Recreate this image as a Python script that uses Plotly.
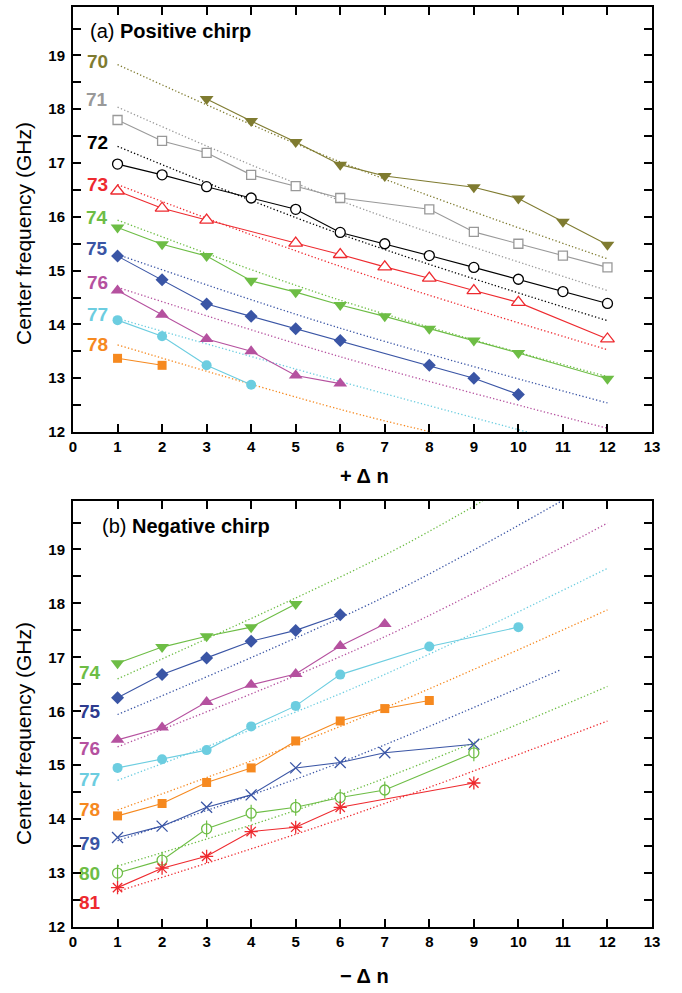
import plotly.graph_objects as go

# ---------------- DATA ----------------
# (a) Positive chirp : measured center frequencies (GHz) vs +Δn
pos_labels = ["70", "71", "72", "73", "74", "75", "76", "77", "78"]
pos_x = {
    "70": [3, 4, 5, 6, 7, 9, 10, 11, 12],
    "71": [1, 2, 3, 4, 5, 6, 8, 9, 10, 11, 12],
    "72": [1, 2, 3, 4, 5, 6, 7, 8, 9, 10, 11, 12],
    "73": [1, 2, 3, 5, 6, 7, 8, 9, 10, 12],
    "74": [1, 2, 3, 4, 5, 6, 7, 8, 9, 10, 12],
    "75": [1, 2, 3, 4, 5, 6, 8, 9, 10],
    "76": [1, 2, 3, 4, 5, 6],
    "77": [1, 2, 3, 4],
    "78": [1, 2],
}
pos_y = {
    "70": [18.19, 17.78, 17.39, 16.97, 16.76, 16.55, 16.34, 15.91, 15.48],
    "71": [17.80, 17.41, 17.19, 16.78, 16.57, 16.35, 16.14, 15.72, 15.50, 15.28, 15.06],
    "72": [16.98, 16.78, 16.56, 16.35, 16.14, 15.71, 15.50, 15.28, 15.06, 14.84, 14.61, 14.39],
    "73": [16.48, 16.16, 15.94, 15.51, 15.30, 15.07, 14.86, 14.63, 14.41, 13.73],
    "74": [15.80, 15.49, 15.27, 14.81, 14.60, 14.36, 14.15, 13.92, 13.70, 13.47, 12.99],
    "75": [15.27, 14.83, 14.38, 14.15, 13.92, 13.70, 13.24, 13.00, 12.70],
    "76": [14.63, 14.18, 13.73, 13.50, 13.05, 12.90],
    "77": [14.08, 13.78, 13.24, 12.88],
    "78": [13.37, 13.24],
}
# theoretical (dotted) curves
pos_fit_x = {
    "70": [1, 6, 12], "71": [1, 6, 12], "72": [1, 6, 12], "73": [1, 6, 12],
    "74": [1, 6, 12], "75": [1, 6, 12], "76": [1, 6, 12],
    "77": [1, 6, 10.2], "78": [1, 6, 8.05],
}
pos_fit_y = {
    "70": [18.83, 17.02, 15.22], "71": [18.04, 16.30, 14.63], "72": [17.31, 15.68, 14.07],
    "73": [16.60, 15.08, 13.53], "74": [15.94, 14.45, 13.03], "75": [15.30, 13.93, 12.54],
    "76": [14.69, 13.40, 12.07], "77": [14.11, 12.94, 12.00], "78": [13.62, 12.42, 12.00],
}

# (b) Negative chirp : measured center frequencies (GHz) vs −Δn
neg_labels = ["74", "75", "76", "77", "78", "79", "80", "81"]
neg_x = {
    "74": [1, 2, 3, 4, 5],
    "75": [1, 2, 3, 4, 5, 6],
    "76": [1, 2, 3, 4, 5, 6, 7],
    "77": [1, 2, 3, 4, 5, 6, 8, 10],
    "78": [1, 2, 3, 4, 5, 6, 7, 8],
    "79": [1, 2, 3, 4, 5, 6, 7, 9],
    "80": [1, 2, 3, 4, 5, 6, 7, 9],
    "81": [1, 2, 3, 4, 5, 6, 9],
}
neg_y = {
    "74": [16.89, 17.19, 17.39, 17.56, 17.99],
    "75": [16.25, 16.68, 16.99, 17.30, 17.50, 17.79],
    "76": [15.47, 15.70, 16.17, 16.49, 16.69, 17.21, 17.62],
    "77": [14.95, 15.11, 15.28, 15.72, 16.10, 16.68, 17.20, 17.56],
    "78": [14.06, 14.29, 14.68, 14.95, 15.45, 15.82, 16.05, 16.20],
    "79": [13.66, 13.87, 14.22, 14.45, 14.95, 15.05, 15.23, 15.39],
    "80": [13.00, 13.24, 13.82, 14.11, 14.22, 14.40, 14.54, 15.23],
    "81": [12.73, 13.09, 13.31, 13.77, 13.85, 14.22, 14.67],
}
neg_fit_x = {
    "74": [1, 6.89, 9.2], "75": [1, 6.89, 10.97], "76": [1, 6.89, 12],
    "77": [1, 6.44, 12], "78": [1, 6, 12], "79": [1, 6, 10.95],
    "80": [1, 6, 12], "81": [1, 6, 12],
}
neg_fit_y = {
    "74": [16.60, 18.85, 19.90], "75": [15.94, 18.08, 19.90], "76": [15.34, 17.34, 19.49],
    "77": [14.72, 16.48, 18.65], "78": [14.17, 15.72, 17.88], "79": [13.60, 15.05, 16.77],
    "80": [13.13, 14.45, 16.46], "81": [12.66, 14.00, 15.82],
}

x_ticks = list(range(0, 14))
y_ticks = [v / 2 for v in range(24, 40)]
y_ticktext = [str(int(v)) if v == int(v) else "" for v in y_ticks]

# ---------------- STYLES ----------------
OLIVE = "#7f7b30"; GRAY = "#999999"; BLACK = "#000000"; RED = "#ee2a2f"
GREEN = "#6dbd45"; BLUE = "#3a55a5"; MAG = "#b5519f"; CYAN = "#6ccde0"
ORANGE = "#f6891f"; NAVY = "#2e3b8f"

# hollow = white-filled symbol with coloured outline
pos_style = {
    "70": dict(color=OLIVE, symbol="triangle-down", size=12, hollow=False),
    "71": dict(color=GRAY, symbol="square", size=9, hollow=True),
    "72": dict(color=BLACK, symbol="circle", size=10, hollow=True),
    "73": dict(color=RED, symbol="triangle-up", size=12, hollow=True),
    "74": dict(color=GREEN, symbol="triangle-down", size=12, hollow=False),
    "75": dict(color=BLUE, symbol="diamond", size=10, hollow=False),
    "76": dict(color=MAG, symbol="triangle-up", size=12, hollow=False),
    "77": dict(color=CYAN, symbol="circle", size=10, hollow=False),
    "78": dict(color=ORANGE, symbol="square", size=9, hollow=False),
}
neg_style = {
    "74": dict(color=GREEN, symbol="triangle-down", size=12, hollow=False),
    "75": dict(color=BLUE, symbol="diamond", size=10, hollow=False),
    "76": dict(color=MAG, symbol="triangle-up", size=12, hollow=False),
    "77": dict(color=CYAN, symbol="circle", size=10, hollow=False),
    "78": dict(color=ORANGE, symbol="square", size=9, hollow=False),
    "79": dict(color=BLUE, symbol="x-thin-open", size=11, hollow=False),
    "80": dict(color=GREEN, symbol="circle", size=10, hollow=True, bar=True),
    "81": dict(color=RED, symbol="asterisk-open", size=11, hollow=False),
}
pos_label_color = {"70": OLIVE, "71": GRAY, "72": BLACK, "73": RED, "74": GREEN,
                   "75": BLUE, "76": MAG, "77": CYAN, "78": ORANGE}
neg_label_color = {"74": GREEN, "75": NAVY, "76": MAG, "77": CYAN, "78": ORANGE,
                   "79": BLUE, "80": GREEN, "81": RED}
pos_label_y = {"70": 18.89, "71": 18.19, "72": 17.39, "73": 16.60, "74": 15.98,
               "75": 15.41, "76": 14.78, "77": 14.19, "78": 13.62}
neg_label_y = {"74": 16.71, "75": 15.99, "76": 15.31, "77": 14.74, "78": 14.17,
               "79": 13.55, "80": 12.99, "81": 12.45}

fig = go.Figure()

def add_panel(labels, xs, ys, fx, fy, styles, xa, ya):
    for k in labels:
        st = styles[k]
        fig.add_trace(go.Scatter(x=fx[k], y=fy[k], mode="lines", xaxis=xa, yaxis=ya,
                                 line=dict(color=st["color"], width=1.3, dash="1.3px,2.2px",
                                           shape="spline", smoothing=1.0),
                                 showlegend=False, hoverinfo="skip"))
    for k in labels:
        st = styles[k]
        sym = st["symbol"]
        if st["hollow"]:
            marker = dict(symbol=sym, size=st["size"], color="white",
                          line=dict(color=st["color"], width=1.3))
        elif sym.endswith("-open"):
            marker = dict(symbol=sym, size=st["size"], color=st["color"],
                          line=dict(color=st["color"], width=1.3))
        else:
            marker = dict(symbol=sym, size=st["size"], color=st["color"], line=dict(width=0))
        fig.add_trace(go.Scatter(
            x=xs[k], y=ys[k], mode="lines+markers", xaxis=xa, yaxis=ya,
            line=dict(color=st["color"], width=1.1), marker=marker,
            showlegend=False, name=k))
        if st.get("bar"):
            # vertical bar through the open circle (Φ-like marker)
            fig.add_trace(go.Scatter(
                x=xs[k], y=ys[k], mode="markers", xaxis=xa, yaxis=ya,
                marker=dict(symbol="line-ns-open", size=12, color=st["color"],
                            line=dict(color=st["color"], width=1.2)),
                showlegend=False, hoverinfo="skip"))

add_panel(pos_labels, pos_x, pos_y, pos_fit_x, pos_fit_y, pos_style, "x", "y")
add_panel(neg_labels, neg_x, neg_y, neg_fit_x, neg_fit_y, neg_style, "x2", "y2")

FONT = "Arial, Liberation Sans, Helvetica, sans-serif"
annotations = []
for k in pos_labels:
    annotations.append(dict(x=0.54, y=pos_label_y[k], xref="x", yref="y", text="<b>%s</b>" % k,
                            showarrow=False, font=dict(size=19, color=pos_label_color[k], family=FONT)))
for k in neg_labels:
    annotations.append(dict(x=0.38, y=neg_label_y[k], xref="x2", yref="y2", text="<b>%s</b>" % k,
                            showarrow=False, font=dict(size=19, color=neg_label_color[k], family=FONT)))

annotations += [
    dict(x=0.026, y=0.974, xref="paper", yref="paper", xanchor="left", yanchor="middle",
         text="(a) <b>Positive chirp</b>", showarrow=False, font=dict(size=20, color="black", family=FONT)),
    dict(x=0.0466, y=0.436, xref="paper", yref="paper", xanchor="left", yanchor="middle",
         text="(b) <b>Negative chirp</b>", showarrow=False, font=dict(size=20, color="black", family=FONT)),
    dict(x=-0.0846, y=0.7533, xref="paper", yref="paper", textangle=-90, xanchor="center", yanchor="middle",
         text="Center frequency (GHz)", showarrow=False, font=dict(size=21, color="black", family=FONT)),
    dict(x=-0.0846, y=0.2099, xref="paper", yref="paper", textangle=-90, xanchor="center", yanchor="middle",
         text="Center frequency (GHz)", showarrow=False, font=dict(size=21, color="black", family=FONT)),
    dict(x=0.5026, y=0.4902, xref="paper", yref="paper", xanchor="center", yanchor="middle",
         text="<b>+ Δ n</b>", showarrow=False, font=dict(size=20, color="black", family=FONT)),
    dict(x=0.5026, y=-0.0531, xref="paper", yref="paper", xanchor="center", yanchor="middle",
         text="<b>− Δ n</b>", showarrow=False, font=dict(size=20, color="black", family=FONT)),
]

axis_common = dict(showline=True, linewidth=2, linecolor="black", mirror="ticks",
                   ticks="inside", ticklen=8, tickwidth=2, tickcolor="black",
                   showgrid=False, zeroline=False,
                   tickfont=dict(size=15, color="black", family=FONT))

xa = dict(axis_common, range=[0, 13], tickmode="array", tickvals=x_ticks,
          ticktext=["<b>%d</b>" % v for v in x_ticks])
ya = dict(axis_common, range=[12, 19.9], tickmode="array", tickvals=y_ticks,
          ticktext=["<b>%s</b>" % t if t else "" for t in y_ticktext],
          ticklabelstandoff=3)

fig.update_layout(
    width=682, height=993,
    margin=dict(l=73, r=30, t=5, b=66),
    paper_bgcolor="white", plot_bgcolor="white",
    xaxis=dict(xa, domain=[0, 1], anchor="y"),
    yaxis=dict(ya, domain=[0.538, 1], anchor="x"),
    xaxis2=dict(xa, domain=[0, 1], anchor="y2"),
    yaxis2=dict(ya, domain=[0, 0.4631], anchor="x2"),
    annotations=annotations,
    showlegend=False,
)

fig.write_html("out.html", config={"displayModeBar": False},
               post_script="document.body.style.margin='0';document.body.style.overflow='hidden';")
